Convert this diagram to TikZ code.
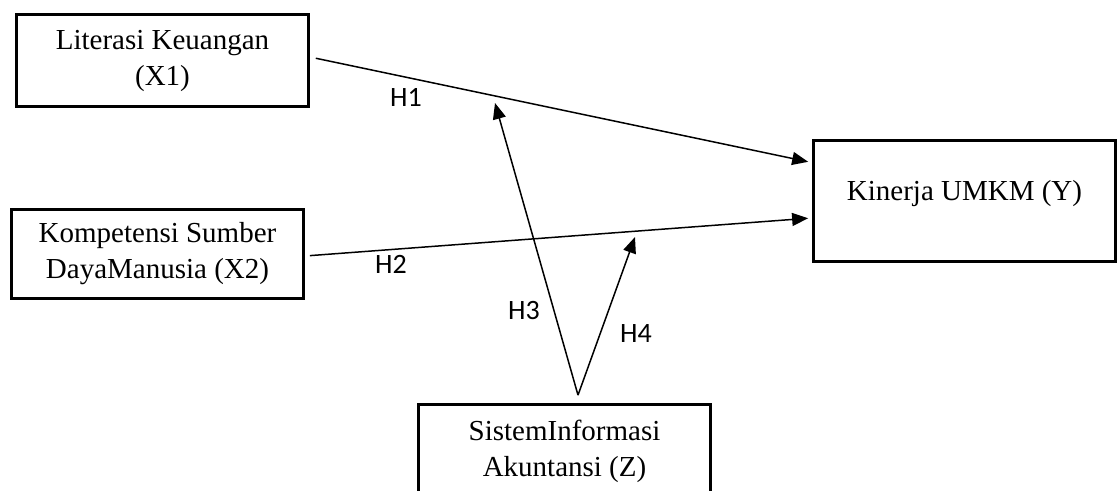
\documentclass[tikz,border=0pt]{standalone}
\usepackage{fontspec}
\setmainfont{Liberation Serif}
\newfontfamily\labfont{Carlito}
\usetikzlibrary{arrows.meta,calc}
\begin{document}
\begin{tikzpicture}[x=1pt,y=-1pt,
  box/.style={draw,line width=2.8pt,inner sep=0pt,align=center,
    font=\fontsize{29}{36}\selectfont},
  conn/.style={line width=1.5pt,-{Triangle[length=16pt,width=13pt]}},
  hlab/.style={font=\labfont\fontsize{28}{30}\selectfont,inner sep=0pt}]
\useasboundingbox (0,0) rectangle (1119,490);
\node[box,minimum width=292pt,minimum height=92pt] (X1) at (162.5,60.5) {Literasi Keuangan\\(X1)};
\node[box,minimum width=292pt,minimum height=89pt] (X2) at (157.5,254) {Kompetensi Sumber\\DayaManusia (X2)};
\node[box,minimum width=302pt,minimum height=121pt,text depth=22pt] (Y) at (964.5,201) {Kinerja UMKM (Y)};
\node[box,minimum width=292pt,minimum height=93pt] (Z) at (564.5,451) {SistemInformasi\\Akuntansi (Z)};
\coordinate (apex) at ([xshift=13.5pt,yshift=8pt]Z.north);
\coordinate (t3) at (495,103);
\coordinate (t4) at (635,237);
\draw[conn,shorten <=6pt,shorten >=4pt] ([yshift=3.5pt]X1.east) -- ($(Y.north west)!0.19!(Y.south west)$);
\draw[conn,shorten <=5pt,shorten >=4pt] ([yshift=-2pt]X2.east) -- ($(Y.north west)!0.637!(Y.south west)$);
\draw[conn] (apex) -- (t3);
\draw[conn] (apex) -- (t4);
\node[hlab] (h1) at (406,97) {H1};
\node[hlab] (h2) at (391,264) {H2};
\node[hlab] (h3) at (524,311) {H3};
\node[hlab] (h4) at (636,334) {H4};
\end{tikzpicture}
\end{document}
